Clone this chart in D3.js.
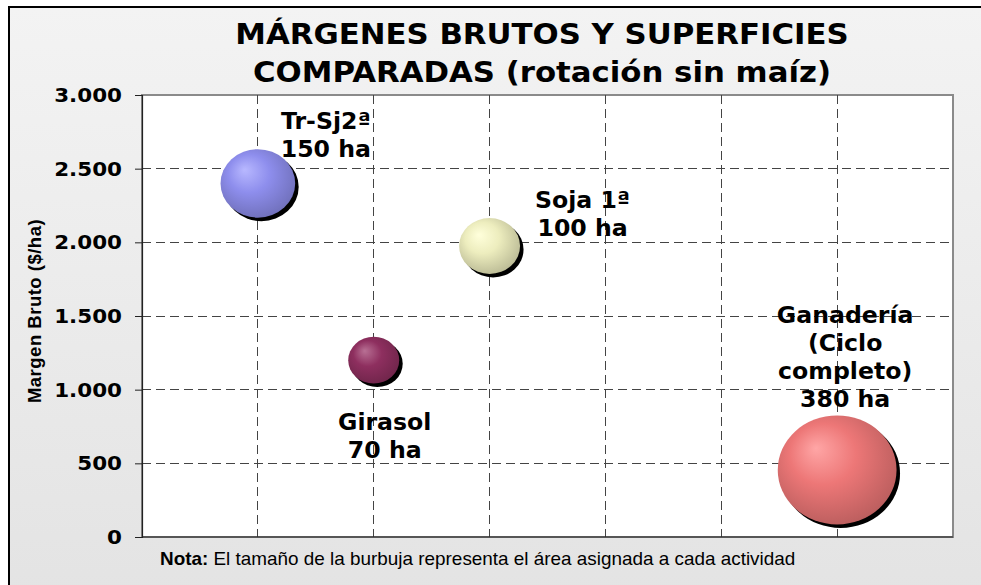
<!DOCTYPE html>
<html>
<head>
<meta charset="utf-8">
<script src="https://cdn.jsdelivr.net/npm/d3@7/dist/d3.min.js"></script>
<style>
  html, body { margin: 0; padding: 0; background: #ffffff; }
  svg { display: block; }
</style>
</head>
<body>
<svg id="chart" width="981" height="585"></svg>
<script>
// Actividades de la rotación (sin maíz)
const activities = ["Tr-Sj2ª", "Girasol", "Soja 1ª", "Ganadería (Ciclo completo)"];
// Posición de cada actividad en el eje horizontal (sin rótulos)
const positions = [1, 2, 3, 6];
// Margen bruto ($/ha)
const margins = [2400, 1200, 1975, 455];
// Superficie asignada (ha) -> tamaño de la burbuja
const hectares = [150, 70, 100, 380];
// Rótulos de cada burbuja, por líneas
const labelLines = [
  ["Tr-Sj2ª", "150 ha"],
  ["Girasol", "70 ha"],
  ["Soja 1ª", "100 ha"],
  ["Ganadería", "(Ciclo", "completo)", "380 ha"]
];
const colors = ["#9999FF", "#993366", "#FFFFCC", "#FF8080"];
const yTicks = [0, 500, 1000, 1500, 2000, 2500, 3000];
const yTickLabels = ["0", "500", "1.000", "1.500", "2.000", "2.500", "3.000"];
const xGrid = [1, 2, 3, 4, 5, 6];

// Desplazamiento de cada rótulo respecto del centro de su burbuja (px)
const labelOffsets = [[68, -54], [11, 70], [93, -38], [8, -147]];

const svg = d3.select("#chart");
const W = 981, H = 585;
const plot = { left: 142, right: 953, top: 95, bottom: 537 };

const defs = svg.append("defs");
const bg = defs.append("linearGradient").attr("id", "bgGrad")
  .attr("x1", 0).attr("y1", 0).attr("x2", 0).attr("y2", 1);
bg.append("stop").attr("offset", "0%").attr("stop-color", "#F3F3F3");
bg.append("stop").attr("offset", "100%").attr("stop-color", "#E3E3E3");

// Fondo del gráfico con marco
svg.append("rect").attr("x", 9).attr("y", 7).attr("width", W + 20).attr("height", H + 20)
  .attr("fill", "url(#bgGrad)").attr("stroke", "#000").attr("stroke-width", 2);

// Área de trazado
svg.append("rect")
  .attr("x", plot.left).attr("y", plot.top)
  .attr("width", plot.right - plot.left).attr("height", plot.bottom - plot.top)
  .attr("fill", "#ffffff").attr("stroke", "#8a8a8a").attr("stroke-width", 2);

const x = d3.scaleLinear().domain([0, 7]).range([plot.left, plot.right]);
const y = d3.scaleLinear().domain([0, 3000]).range([plot.bottom, plot.top]);
const r = d3.scaleSqrt().domain([0, 380]).range([0, 54.5]);
const aspect = 1.09;

// Cuadrícula discontinua
svg.append("g").selectAll("line.h").data(yTicks.filter(d => d > 0 && d < 3000)).join("line")
  .attr("x1", plot.left).attr("x2", plot.right)
  .attr("y1", d => y(d)).attr("y2", d => y(d))
  .attr("stroke", "#444").attr("stroke-width", 1).attr("stroke-dasharray", "9,5")
  .attr("shape-rendering", "crispEdges");
svg.append("g").selectAll("line.v").data(xGrid).join("line")
  .attr("x1", d => x(d)).attr("x2", d => x(d))
  .attr("y1", plot.top).attr("y2", plot.bottom)
  .attr("stroke", "#444").attr("stroke-width", 1).attr("stroke-dasharray", "9,5")
  .attr("shape-rendering", "crispEdges");

// Eje vertical
const yAxis = d3.axisLeft(y).tickValues(yTicks).tickSize(7).tickPadding(0)
  .tickFormat(() => "");
const gy = svg.append("g").attr("transform", `translate(${plot.left},0)`).call(yAxis);
gy.select(".domain").attr("stroke", "#222").attr("stroke-width", 1.2);
gy.selectAll(".tick line").attr("stroke", "#222");

// Eje horizontal (línea base)
svg.append("line").attr("x1", plot.left).attr("x2", plot.right)
  .attr("y1", plot.bottom).attr("y2", plot.bottom)
  .attr("stroke", "#222").attr("stroke-width", 1.2);

function stretchedText(parent, tx, ty, sx, text, opts) {
  const g = parent.append("g").attr("transform", `translate(${tx},${ty}) scale(${sx},1)`);
  return g.append("text").attr("x", 0).attr("y", 0)
    .attr("text-anchor", opts.anchor || "middle")
    .attr("font-family", opts.family || "DejaVu Sans")
    .attr("font-weight", opts.weight || "bold")
    .attr("font-size", opts.size)
    .attr("fill", "#000")
    .text(text);
}

// Rótulos del eje vertical
yTicks.forEach((d, i) => {
  stretchedText(svg, 122, y(d) + 7, 1.1, yTickLabels[i], { anchor: "end", size: 19.5 });
});

// Título del eje vertical
svg.append("text")
  .attr("transform", `translate(41,311) rotate(-90)`)
  .attr("text-anchor", "middle")
  .attr("font-family", "Liberation Sans").attr("font-weight", "bold")
  .attr("font-size", 18.5).attr("letter-spacing", 0.5)
  .text("Margen Bruto ($/ha)");

// Título
stretchedText(svg, 542, 44, 1.08, "MÁRGENES BRUTOS Y SUPERFICIES", { size: 28.5 });
stretchedText(svg, 542, 82, 1.08, "COMPARADAS (rotación sin maíz)", { size: 28.5 });

// Burbujas con sombreado 3D
const data = activities.map((a, i) => ({
  name: a, pos: positions[i], margin: margins[i], ha: hectares[i],
  color: colors[i], lines: labelLines[i], off: labelOffsets[i], id: i
}));

data.forEach(d => {
  const base = d3.color(d.color);
  const grad = defs.append("radialGradient").attr("id", "bub" + d.id)
    .attr("cx", "45%").attr("cy", "42%").attr("r", "62%")
    .attr("fx", "32%").attr("fy", "30%");
  grad.append("stop").attr("offset", "0%").attr("stop-color", d3.interpolateRgb(base, "#ffffff")(0.3));
  grad.append("stop").attr("offset", "45%").attr("stop-color", base.darker(0.2));
  grad.append("stop").attr("offset", "100%").attr("stop-color", base.darker(0.9));
});

const bubbles = svg.append("g");
bubbles.selectAll("ellipse.shadow").data(data).join("ellipse")
  .attr("cx", d => x(d.pos) + 3.5).attr("cy", d => y(d.margin) + 3.5)
  .attr("rx", d => r(d.ha) * aspect).attr("ry", d => r(d.ha))
  .attr("fill", "#000");
bubbles.selectAll("ellipse.bubble").data(data).join("ellipse")
  .attr("cx", d => x(d.pos)).attr("cy", d => y(d.margin))
  .attr("rx", d => r(d.ha) * aspect).attr("ry", d => r(d.ha))
  .attr("fill", d => `url(#bub${d.id})`);

// Rótulos de las burbujas
data.forEach(d => {
  const cx = x(d.pos) + d.off[0];
  const cy = y(d.margin) + d.off[1];
  d.lines.forEach((line, k) => {
    stretchedText(svg, cx, cy + k * 28, 1.05, line, { size: 22.5 });
  });
});

// Nota al pie
const noteG = svg.append("g").attr("transform", "translate(160,565) scale(1.08,1)");
const note = noteG.append("text").attr("x", 0).attr("y", 0)
  .attr("font-family", "Liberation Sans").attr("font-size", 17.5).attr("fill", "#000");
note.append("tspan").attr("font-weight", "bold").text("Nota:");
note.append("tspan").text(" El tamaño de la burbuja representa el área asignada a cada actividad");
</script>
</body>
</html>
